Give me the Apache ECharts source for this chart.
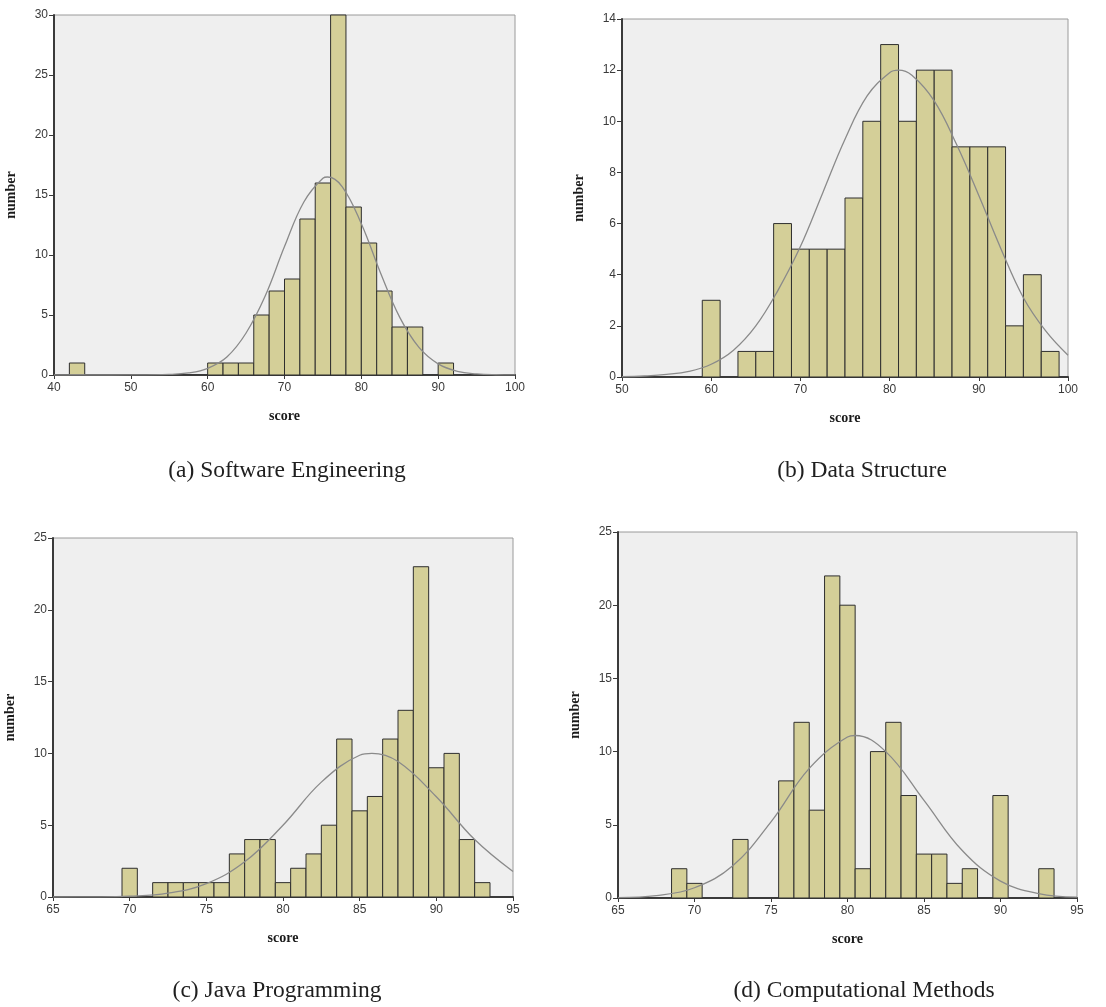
<!DOCTYPE html>
<html>
<head>
<meta charset="utf-8">
<script src="https://cdn.jsdelivr.net/npm/echarts@6/dist/echarts.min.js"></script>
<style>
html,body{margin:0;padding:0;background:#fff;}
#chart{width:1106px;height:1007px;}
</style>
</head>
<body>
<div id="chart"></div>
<script>
// ---------- DATA ----------
// (a) Software Engineering: bin centers (width 2) and counts
const aCenters = [43, 61, 63, 65, 67, 69, 71, 73, 75, 77, 79, 81, 83, 85, 87, 91];
const aCounts  = [1, 1, 1, 1, 5, 7, 8, 13, 16, 30, 14, 11, 7, 4, 4, 1];
const aCurveX  = [40, 45, 50, 55, 57.5, 60, 62.5, 65, 67.5, 70, 72.5, 75, 75.6, 77.5, 80, 82.5, 85, 87.5, 90, 92.5, 95, 97.5, 100];
const aCurveY  = [0, 0, 0.005, 0.05, 0.17, 0.56, 1.5, 3.5, 6.6, 10.7, 14.4, 16.4, 16.5, 15.7, 12.6, 8.5, 4.8, 2.3, 0.93, 0.31, 0.09, 0.02, 0.005];

// (b) Data Structure: bin centers (width 2) and counts
const bCenters = [60, 64, 66, 68, 70, 72, 74, 76, 78, 80, 82, 84, 86, 88, 90, 92, 94, 96, 98];
const bCounts  = [3, 1, 1, 6, 5, 5, 5, 7, 10, 13, 10, 12, 12, 9, 9, 9, 2, 4, 1];
const bCurveX  = [50, 52.5, 55, 57.5, 60, 62.5, 65, 67.5, 70, 72.5, 75, 77.5, 80, 81, 82.5, 85, 87.5, 90, 92.5, 95, 97.5, 100];
const bCurveY  = [0.01, 0.04, 0.1, 0.22, 0.5, 1.05, 2.0, 3.4, 5.1, 7.2, 9.3, 11.0, 11.9, 12.0, 11.8, 10.8, 9.1, 7.1, 5.0, 3.1, 1.8, 0.85];

// (c) Java Programming: bin centers (width 1) and counts
const cCenters = [70, 72, 73, 74, 75, 76, 77, 78, 79, 80, 81, 82, 83, 84, 85, 86, 87, 88, 89, 90, 91, 92, 93];
const cCounts  = [2, 1, 1, 1, 1, 1, 3, 4, 4, 1, 2, 3, 5, 11, 6, 7, 11, 13, 23, 9, 10, 4, 1];
const cCurveX  = [65, 67.5, 70, 72.5, 75, 77.5, 80, 82.5, 85, 85.8, 87.5, 90, 92.5, 95];
const cCurveY  = [0, 0.01, 0.06, 0.27, 0.93, 2.45, 5.0, 8.0, 9.87, 10.0, 9.43, 6.98, 4.0, 1.77];

// (d) Computational Methods: bin centers (width 1) and counts
const dCenters = [69, 70, 73, 76, 77, 78, 79, 80, 81, 82, 83, 84, 85, 86, 87, 88, 90, 93];
const dCounts  = [2, 1, 4, 8, 12, 6, 22, 20, 2, 10, 12, 7, 3, 3, 1, 2, 7, 2];
const dCurveX  = [65, 67.5, 70, 72.5, 75, 77.5, 80, 80.5, 82.5, 85, 87.5, 90, 92.5, 95];
const dCurveY  = [0.03, 0.16, 0.7, 2.2, 5.2, 8.85, 11.0, 11.1, 10.0, 6.67, 3.24, 1.15, 0.3, 0.06];

const captions = ['(a) Software Engineering', '(b) Data Structure', '(c) Java Programming', '(d) Computational Methods'];
const xName = 'score';
const yName = 'number';

// ---------- CHART ----------
const panels = [
  {centers: aCenters, counts: aCounts, w: 2, cx: aCurveX, cy: aCurveY, xmin: 40, xmax: 100, xint: 10, ymax: 30, yint: 5,
   grid: {left: 54, top: 15, width: 461, height: 360}, cap: [287, 471]},
  {centers: bCenters, counts: bCounts, w: 2, cx: bCurveX, cy: bCurveY, xmin: 50, xmax: 100, xint: 10, ymax: 14, yint: 2,
   grid: {left: 622, top: 19, width: 446, height: 358}, cap: [862, 471]},
  {centers: cCenters, counts: cCounts, w: 1, cx: cCurveX, cy: cCurveY, xmin: 65, xmax: 95, xint: 5, ymax: 25, yint: 5,
   grid: {left: 53, top: 538, width: 460, height: 359}, cap: [277, 991]},
  {centers: dCenters, counts: dCounts, w: 1, cx: dCurveX, cy: dCurveY, xmin: 65, xmax: 95, xint: 5, ymax: 25, yint: 5,
   grid: {left: 618, top: 532, width: 459, height: 366}, cap: [864, 991]}
];

const labelStyle = {fontFamily: 'Liberation Sans, Arial, sans-serif', fontSize: 12, color: '#3a3a3a'};
const nameStyle = {fontFamily: 'Liberation Serif, Times New Roman, serif', fontSize: 14, fontWeight: 'bold', color: '#1a1a1a'};

const option = {
  animation: false,
  backgroundColor: '#ffffff',
  grid: [], xAxis: [], yAxis: [], series: [], graphic: []
};

panels.forEach((p, i) => {
  option.grid.push(Object.assign({show: true, backgroundColor: '#efefef', borderColor: '#9a9a9a', borderWidth: 1}, p.grid));
  option.xAxis.push({
    type: 'value', gridIndex: i, min: p.xmin, max: p.xmax, interval: p.xint,
    name: xName, nameLocation: 'middle', nameGap: 34, nameTextStyle: nameStyle,
    axisLine: {show: true, onZero: false, lineStyle: {color: '#3a3a3a', width: 2}},
    axisTick: {show: true, length: 4, lineStyle: {color: '#3a3a3a', width: 1}},
    axisLabel: Object.assign({margin: 7, showMinLabel: true, showMaxLabel: true}, labelStyle),
    splitLine: {show: false}
  });
  option.yAxis.push({
    type: 'value', gridIndex: i, min: 0, max: p.ymax, interval: p.yint,
    name: yName, nameLocation: 'middle', nameGap: 36, nameRotate: 90, nameTextStyle: nameStyle,
    axisLine: {show: true, onZero: false, lineStyle: {color: '#3a3a3a', width: 2}},
    axisTick: {show: true, length: 5, lineStyle: {color: '#3a3a3a', width: 1}},
    axisLabel: Object.assign({margin: 6}, labelStyle),
    splitLine: {show: false}
  });
  const half = p.w / 2;
  option.series.push({
    type: 'custom', xAxisIndex: i, yAxisIndex: i, z: 2,
    data: p.centers.map((c, k) => [c - half, c + half, p.counts[k]]),
    renderItem: function (params, api) {
      const tl = api.coord([api.value(0), api.value(2)]);
      const br = api.coord([api.value(1), 0]);
      return {
        type: 'rect',
        shape: {x: tl[0], y: tl[1], width: br[0] - tl[0], height: br[1] - tl[1]},
        style: {fill: '#d4cf98', stroke: '#2e2e2e', lineWidth: 1}
      };
    }
  });
  option.series.push({
    type: 'line', xAxisIndex: i, yAxisIndex: i, z: 3, smooth: 0.4,
    showSymbol: false, symbol: 'none',
    lineStyle: {color: '#8a8a8a', width: 1.3},
    data: p.cx.map((x, k) => [x, p.cy[k]])
  });
  option.graphic.push({
    type: 'text', z: 10,
    style: {text: captions[i], x: p.cap[0], y: p.cap[1], textAlign: 'center', textVerticalAlign: 'middle',
      font: '23.5px "Liberation Serif", "Times New Roman", serif', fill: '#1f1f1f'}
  });
});

const chart = echarts.init(document.getElementById('chart'), null, {renderer: 'canvas'});
chart.setOption(option);
</script>
</body>
</html>
